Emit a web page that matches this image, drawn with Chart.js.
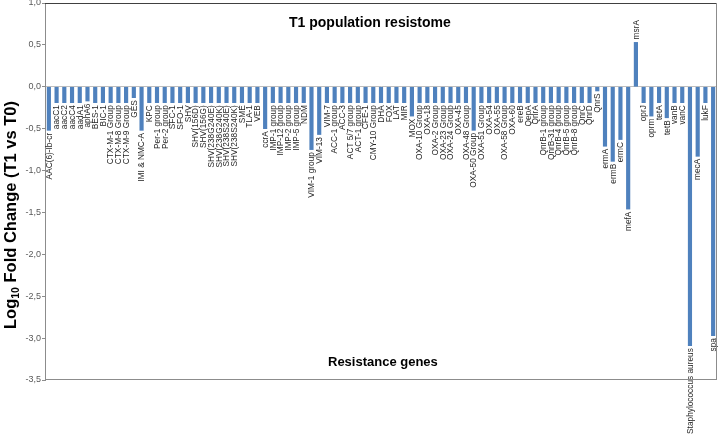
<!DOCTYPE html>
<html>
<head>
<meta charset="utf-8">
<script src="https://cdn.jsdelivr.net/npm/chart.js@4"></script>
<style>
  html, body { margin: 0; padding: 0; background: #fff; }
  #wrap { width: 721px; height: 434px; position: relative; }
</style>
</head>
<body>
<div id="wrap"><canvas id="myChart"></canvas></div>
<script>
// Resistance genes (categories)
var genes = [
    "AAC(6)-Ib-cr", "aacC1", "aacC2", "aacC4", "aadA1", "aphA6", "BES-1", "BIC-1",
    "CTX-M-1 Group", "CTX-M-8 Group", "CTX-M-9 Group", "GES", "IMI & NMC-A", "KPC",
    "Per-1 group", "Per-2 group", "SFC-1", "SFO-1", "SHV", "SHV(156D)", "SHV(156G)",
    "SHV(238G240E)", "SHV(238G240K)", "SHV(238S240E)", "SHV(238S240K)", "SME", "TLA-1",
    "VEB", "ccrA", "IMP-1 group", "IMP-12 group", "IMP-2 group", "IMP-5 group", "NDM",
    "VIM-1 group", "VIM-13", "VIM-7", "ACC-1 group", "ACC-3", "ACT 5/7 group",
    "ACT-1 group", "CFE-1", "CMY-10 Group", "DHA", "FOX", "LAT", "MIR", "MOX",
    "OXA-10 Group", "OXA-18", "OXA-2 Group", "OXA-23 Group", "OXA-24 Group", "OXA-45",
    "OXA-48 Group", "OXA-50 Group", "OXA-51 Group", "OXA-54", "OXA-55", "OXA-58 Group",
    "OXA-60", "ereB", "QepA", "QnrA", "QnrB-1 group", "QnrB-31 group", "QnrB-4 group",
    "QnrB-5 group", "QnrB-8 group", "QnrC", "QnrD", "QnrS", "ermA", "ermB", "ermC",
    "mefA", "msrA", "oprJ", "oprm", "tetA", "tetB", "vanB", "vanC",
    "Staphylococcus aureus", "mecA", "lukF", "spa"
];

// Log10 fold change (T1 vs T0)
var foldChange = [
    -0.52, -0.19, -0.19, -0.19, -0.19, -0.17, -0.19, -0.19,
    -0.19, -0.19, -0.19, -0.13, -0.52, -0.19,
    -0.19, -0.19, -0.19, -0.19, -0.19, -0.19, -0.19,
    -0.19, -0.19, -0.19, -0.19, -0.19, -0.19,
    -0.19, -0.50, -0.19, -0.19, -0.19, -0.19, -0.19,
    -0.75, -0.57, -0.19, -0.19, -0.19, -0.19,
    -0.19, -0.19, -0.19, -0.19, -0.19, -0.19, -0.19, -0.35,
    -0.19, -0.19, -0.19, -0.19, -0.19, -0.19,
    -0.19, -0.52, -0.19, -0.19, -0.19, -0.19,
    -0.19, -0.19, -0.19, -0.19, -0.19, -0.19, -0.19,
    -0.19, -0.19, -0.19, -0.19, -0.05, -0.71, -0.89, -0.63,
    -1.46, 0.53, -0.19, -0.35, -0.19, -0.37, -0.19, -0.19,
    -3.09, -0.83, -0.19, -2.97
];

// Y axis range
var yMin = -3.5;
var yMax = 1.0;
var yStep = 0.5;

var fontFamily = "'Liberation Sans', Arial, sans-serif";

// Gene names next to the bar ends, title texts and the frame
var annotations = {
    id: 'annotations',
    afterDatasetsDraw: function(chart) {
        var ctx = chart.ctx;
        var area = chart.chartArea;
        var bars = chart.getDatasetMeta(0).data;

        ctx.save();
        ctx.fillStyle = '#262626';
        ctx.font = '8.3px ' + fontFamily;
        ctx.textBaseline = 'middle';
        for (var i = 0; i < bars.length; i++) {
            var bar = bars[i];
            ctx.save();
            if (foldChange[i] < 0) {
                ctx.translate(bar.x + 0.5, bar.y + 2.5);
                ctx.rotate(-Math.PI / 2);
                ctx.textAlign = 'right';
            } else {
                ctx.translate(bar.x + 0.5, bar.y - 3);
                ctx.rotate(-Math.PI / 2);
                ctx.textAlign = 'left';
            }
            ctx.fillText(genes[i], 0, 0);
            ctx.restore();
        }

        // chart title and x title inside the plot
        ctx.fillStyle = '#000';
        ctx.textAlign = 'left';
        ctx.textBaseline = 'alphabetic';
        ctx.font = 'bold 14px ' + fontFamily;
        ctx.fillText('T1 population resistome', 289, 27);
        ctx.font = 'bold 13px ' + fontFamily;
        ctx.fillText('Resistance genes', 328, 366);

        // y axis title with subscript
        ctx.save();
        ctx.translate(16, 215);
        ctx.rotate(-Math.PI / 2);
        var big = 'bold 16.5px ' + fontFamily;
        var small = 'bold 10.5px ' + fontFamily;
        var p1 = 'Log';
        var p2 = '10';
        var p3 = ' Fold Change (T1 vs T0)';
        ctx.font = big;
        var w1 = ctx.measureText(p1).width;
        var w3 = ctx.measureText(p3).width;
        ctx.font = small;
        var w2 = ctx.measureText(p2).width;
        var start = -(w1 + w2 + w3) / 2;
        ctx.font = big;
        ctx.fillText(p1, start, 0);
        ctx.fillText(p3, start + w1 + w2, 0);
        ctx.font = small;
        ctx.fillText(p2, start + w1, 3);
        ctx.restore();

        // frame
        ctx.lineWidth = 1;
        ctx.strokeStyle = '#404040';
        ctx.beginPath();
        ctx.moveTo(area.left, area.top + 0.5);
        ctx.lineTo(area.right, area.top + 0.5);
        ctx.stroke();
        ctx.strokeStyle = '#8c8c8c';
        ctx.beginPath();
        ctx.moveTo(area.right - 0.5, area.top);
        ctx.lineTo(area.right - 0.5, area.bottom);
        ctx.moveTo(area.left, area.bottom - 0.5);
        ctx.lineTo(area.right, area.bottom - 0.5);
        ctx.stroke();
        ctx.restore();
    }
};

var ctx = document.getElementById('myChart').getContext('2d');
var myChart = new Chart(ctx, {
    type: 'bar',
    data: {
        labels: genes,
        datasets: [{
            data: foldChange,
            backgroundColor: '#4F81BD',
            borderWidth: 0,
            barThickness: 3.5
        }]
    },
    options: {
        responsive: true,
        maintainAspectRatio: false,
        animation: false,
        layout: {
            padding: { top: 3, right: 4, bottom: 54, left: 0 }
        },
        plugins: {
            legend: { display: false },
            tooltip: { enabled: false }
        },
        scales: {
            x: {
                display: false
            },
            y: {
                min: yMin,
                max: yMax,
                afterFit: function(scale) {
                    scale.width = 45;
                    scale.paddingTop = 0;
                    scale.paddingBottom = 0;
                },
                ticks: {
                    stepSize: yStep,
                    color: '#595959',
                    padding: 1,
                    font: { family: fontFamily, size: 9 },
                    callback: function(value) {
                        return value.toFixed(1).replace('.', ',');
                    }
                },
                grid: {
                    drawOnChartArea: true,
                    tickLength: 3,
                    color: function(c) {
                        return c.tick && c.tick.value === 0 ? '#bfbfbf' : 'rgba(0,0,0,0)';
                    },
                    tickColor: '#8c8c8c'
                },
                border: {
                    display: true,
                    color: '#8c8c8c'
                }
            }
        }
    },
    plugins: [annotations]
});
</script>
</body>
</html>
